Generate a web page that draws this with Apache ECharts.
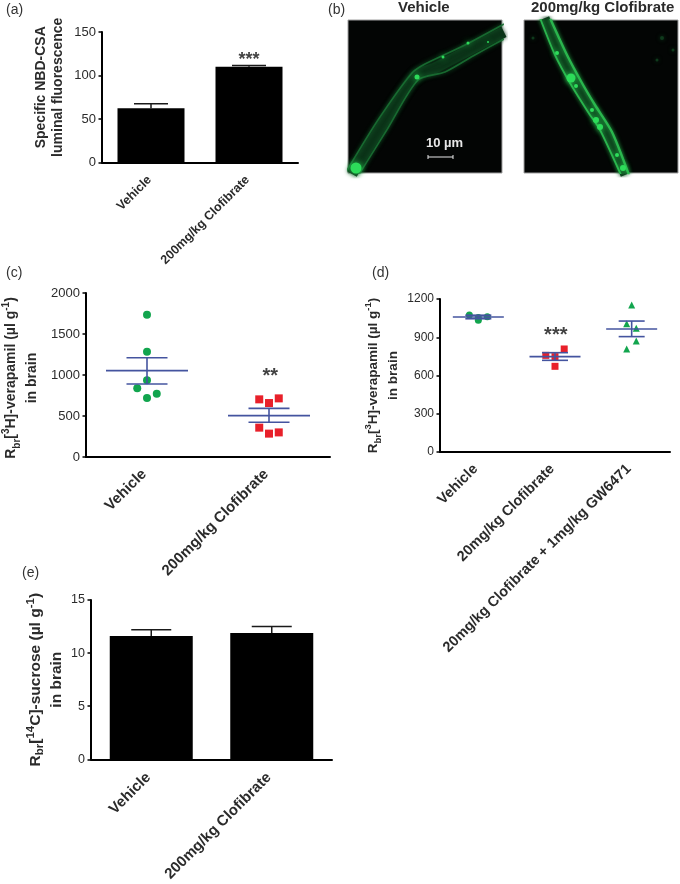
<!DOCTYPE html>
<html><head><meta charset="utf-8">
<style>html,body{margin:0;padding:0;background:#fff}#c{width:680px;height:884px}</style>
<script src="https://cdn.jsdelivr.net/npm/echarts@6/dist/echarts.min.js"></script></head>
<body><div id="c"></div>
<script>
// ---- data ----
const catsTwo = ['Vehicle', '200mg/kg Clofibrate'];
const catsD = ['Vehicle', '20mg/kg Clofibrate', '20mg/kg Clofibrate + 1mg/kg GW6471'];

const aMeans = [62.5, 110];
const aTops = [67.5, 111.5];

const cVehicle = [[0, 1736], [0, 1285], [0, 935], [-0.08, 837], [0.08, 772], [0, 720]];
const cClofibrate = [[0.92, 703], [1.08, 715], [1, 658], [0.92, 358], [1.08, 300], [1, 285]];
const cMeans = [1053, 504];
const cLow = [890, 423];
const cHigh = [1211, 593];

const dVehicle = [[-0.117, 1075], [0, 1033], [0, 1055], [0.117, 1061]];
const dClofibrate = [[0.88, 758], [1, 748], [1, 672], [1.12, 808]];
const dGw = [[2, 1153], [1.935, 1006], [2.06, 970], [2.06, 871], [1.935, 808]];
const dMeans = [1059, 748, 965];
const dLow = [1045, 719, 905];
const dHigh = [1073, 779, 1027];

const eMeans = [11.6, 11.9];
const eTops = [12.2, 12.5];

// micrograph traces (image-pixel frame, y down)
const img1WallA = [[-2,152],[30,100],[64,53],[77,44],[117,25],[156,4]];
const img1WallB = [[10,156],[40,108],[70,60],[97,52],[125,36],[156,19]];
const img1Glow = [[4,154],[35,104],[67,56],[87,48],[121,30],[156,12]];
const img1Spots = [[8,148,11],[69,57,5],[95,37,3],[120,23,3],[140,22,2]];
const img2WallA = [[16,-2],[31,35],[46,63],[64,92],[76,110],[97,155]];
const img2WallB = [[26,-2],[43,35],[58,63],[71,85],[88,112],[105,155]];
const img2Glow = [[21,-2],[37,35],[52,63],[67,88],[82,111],[101,155]];
const img2Spots = [[47,58,9],[33,33,4],[52,66,4],[72,100,6],[76,107,6],[93,135,4],[99,148,6],[68,90,4]];
const img2Faint = [[9,18,3],[133,40,3],[138,18,4],[149,30,3]];
const scaleBar = [[80,137],[105,137]];

// ---- styles ----
const FONT = '"Liberation Sans", Arial, sans-serif';
const INK = '#2b2b2b', BLUE = '#44549f', GREEN = '#12a54e', RED = '#e8202a';

function rich(size, lh) {
  return {
    n: { fontSize: size, fontWeight: 'bold', color: INK, fontFamily: FONT, lineHeight: lh },
    s: { fontSize: size - 4, fontWeight: 'bold', color: INK, fontFamily: FONT, verticalAlign: 'bottom', lineHeight: lh },
    u: { fontSize: size - 4, fontWeight: 'bold', color: INK, fontFamily: FONT, verticalAlign: 'top', lineHeight: lh }
  };
}
const grids = [], xAxes = [], yAxes = [], series = [];

function panel(g) {
  const i = grids.length;
  grids.push({ left: g.l, top: g.t, width: g.w, height: g.h, containLabel: false });
  xAxes.push({
    type: 'category', gridIndex: i, data: g.cats,
    axisLine: { lineStyle: { color: '#000', width: 2 } },
    axisTick: { alignWithLabel: true, length: 4, lineStyle: { color: '#000', width: 2 } },
    axisLabel: { rotate: 45, interval: 0, margin: g.mar, padding: [0, g.pad, 0, 0], fontSize: g.lab, fontWeight: 'bold', color: INK, fontFamily: FONT }
  });
  xAxes.push({ type: 'value', gridIndex: i, show: false, min: -0.5, max: g.cats.length - 0.5 });
  yAxes.push({
    type: 'value', gridIndex: i, min: 0, max: g.max, interval: g.step,
    splitLine: { show: false },
    axisLine: { show: true, onZero: false, lineStyle: { color: '#000', width: 2 } },
    axisTick: { show: true, length: 3.5, lineStyle: { color: '#000', width: 1.5 } },
    axisLabel: { margin: 6, fontSize: g.tick, color: INK, fontFamily: FONT, formatter: v => String(v) },
    name: g.name, nameLocation: 'middle', nameRotate: 90, nameGap: g.gap,
    nameTextStyle: { fontSize: g.ns, fontWeight: 'bold', color: INK, fontFamily: FONT, lineHeight: g.lh, padding: g.np || 0, rich: rich(g.ns, g.lh) }
  });
  return { cat: xAxes.length - 2, val: xAxes.length - 1, y: yAxes.length - 1 };
}

function bars(ax, means, tops, width, cap) {
  series.push({ type: 'bar', xAxisIndex: ax.cat, yAxisIndex: ax.y, data: means, barWidth: width,
    itemStyle: { color: '#000' }, animation: false, z: 2 });
  series.push({ type: 'custom', xAxisIndex: ax.cat, yAxisIndex: ax.y, data: tops.map((t, i) => [i, means[i], t]),
    silent: true, animation: false, z: 1,
    renderItem(p, api) {
      const a = api.coord([api.value(0), api.value(1)]), b = api.coord([api.value(0), api.value(2)]);
      const st = { stroke: '#1a1a1a', lineWidth: 1.5 };
      return { type: 'group', children: [
        { type: 'line', shape: { x1: a[0], y1: a[1], x2: b[0], y2: b[1] }, style: st },
        { type: 'line', shape: { x1: b[0] - cap, y1: b[1], x2: b[0] + cap, y2: b[1] }, style: st }
      ] };
    } });
}

function meanErr(ax, means, low, high, meanHalf, capHalf) {
  series.push({ type: 'custom', xAxisIndex: ax.val, yAxisIndex: ax.y,
    data: means.map((m, i) => [i, m, low[i], high[i]]), silent: true, animation: false, z: 5,
    renderItem(p, api) {
      const x = api.value(0);
      const m = api.coord([x, api.value(1)]), l = api.coord([x, api.value(2)]), h = api.coord([x, api.value(3)]);
      const st = { stroke: BLUE, lineWidth: 1.6 };
      const ln = (x1, y1, x2, y2) => ({ type: 'line', shape: { x1, y1, x2, y2 }, style: st });
      return { type: 'group', children: [
        ln(m[0] - meanHalf, m[1], m[0] + meanHalf, m[1]),
        ln(l[0], l[1], h[0], h[1]),
        ln(l[0] - capHalf, l[1], l[0] + capHalf, l[1]),
        ln(h[0] - capHalf, h[1], h[0] + capHalf, h[1])
      ] };
    } });
}

function pts(ax, data, symbol, color, size) {
  series.push({ type: 'scatter', xAxisIndex: ax.val, yAxisIndex: ax.y, data, symbol, symbolSize: size,
    itemStyle: { color, opacity: 1 }, animation: false, silent: true, z: 3 });
}

function sig(ax, x, y, text, size) {
  series.push({ type: 'scatter', xAxisIndex: ax.val, yAxisIndex: ax.y, data: [[x, y]], symbolSize: 1,
    itemStyle: { color: 'transparent' }, silent: true, animation: false, z: 6,
    label: { show: true, position: 'inside', formatter: text, fontSize: size, fontWeight: 'bold', color: '#111', fontFamily: FONT } });
}

// (a)
const A = panel({ l: 102, t: 32, w: 196, h: 130.5, cats: catsTwo, max: 150, step: 50, tick: 13, lab: 12.5, mar: 14, pad: 2, ns: 14, lh: 17, gap: 35, np: [0, 0, 0, 20],
  name: '{n|Specific NBD-CSA}\n{n|luminal fluorescence}' });
bars(A, aMeans, aTops, 67, 17);
sig(A, 1, 118, '***', 18);

// (c)
const C = panel({ l: 85, t: 293, w: 245, h: 164, cats: catsTwo, max: 2000, step: 500, tick: 13, lab: 15, mar: 12, pad: 4, ns: 14, lh: 21, gap: 43, np: [0, 6, 0, 0],
  name: '{n|R}{s|br}{n|[}{u|3}{n|H]-verapamil (µl g}{u|-1}{n|)}\n{n|in brain}' });
meanErr(C, cMeans, cLow, cHigh, 41, 20.5);
pts(C, cVehicle, 'circle', GREEN, 8);
pts(C, cClofibrate, 'rect', RED, 8);
sig(C, 1.01, 985, '**', 20);

// (d)
const D = panel({ l: 440, t: 299, w: 230, h: 153, cats: catsD, max: 1200, step: 300, tick: 12, lab: 14.5, mar: 12, pad: 4, ns: 13.5, lh: 20, gap: 29,
  name: '{n|R}{s|br}{n|[}{u|3}{n|H]-verapamil (µl g}{u|-1}{n|)}\n{n|in brain}' });
meanErr(D, dMeans, dLow, dHigh, 25.5, 13);
pts(D, dVehicle, 'circle', GREEN, 7);
pts(D, dClofibrate, 'rect', RED, 7);
pts(D, dGw, 'triangle', GREEN, 7);
sig(D, 1.01, 914, '***', 20);

// (e)
const E = panel({ l: 91, t: 600, w: 241, h: 160.5, cats: catsTwo, max: 15, step: 5, tick: 12.5, lab: 15, mar: 13, pad: 4, ns: 15.5, lh: 21, gap: 23,
  name: '{n|R}{s|br}{n|[}{u|14}{n|C]-sucrose (µl g}{u|-1}{n|)}\n{n|in brain}' });
bars(E, eMeans, eTops, 83, 20);

// (b) micrographs: black frames with hidden pixel axes
function image(left, glow, wallA, wallB, spots, bright, faint) {
  const i = grids.length;
  grids.push({ left, top: 20, width: 154, height: 153, show: true, backgroundColor: '#030504', borderColor: '#a0a0a0', borderWidth: 1 });
  xAxes.push({ type: 'value', gridIndex: i, show: false, min: 0, max: 154 });
  yAxes.push({ type: 'value', gridIndex: i, show: false, min: 0, max: 153, inverse: true });
  const xi = xAxes.length - 1, yi = yAxes.length - 1;
  const line = (data, color, width, blur, op) => series.push({ type: 'line', xAxisIndex: xi, yAxisIndex: yi, data, showSymbol: false, smooth: 0.25, silent: true, animation: false,
    lineStyle: { color, width, opacity: op, shadowBlur: blur, shadowColor: color }, clip: true, z: 2 });
  line(glow, bright ? '#0d3f1c' : '#0b3318', bright ? 9 : 11, 4, 1);
  line(wallA, bright ? '#2ec052' : '#1a7033', bright ? 1.8 : 1.6, 4, 0.9);
  line(wallB, bright ? '#2ec052' : '#1a7033', bright ? 2.4 : 1.6, 4, 0.9);
  series.push({ type: 'scatter', xAxisIndex: xi, yAxisIndex: yi, data: spots, symbolSize: v => v[2], silent: true, animation: false, clip: true, z: 3,
    itemStyle: { color: '#2ddc5a', opacity: 1, shadowBlur: 6, shadowColor: '#2ddc5a' } });
  if (faint) series.push({ type: 'scatter', xAxisIndex: xi, yAxisIndex: yi, data: faint, symbolSize: v => v[2], silent: true, animation: false, clip: true, z: 3,
    itemStyle: { color: '#0f3a1c', opacity: 1, shadowBlur: 4, shadowColor: '#0f3a1c' } });
  return { x: xi, y: yi };
}
const im1 = image(348, img1Glow, img1WallA, img1WallB, img1Spots, false);
image(524, img2Glow, img2WallA, img2WallB, img2Spots, true, img2Faint);
series.push({ type: 'line', xAxisIndex: im1.x, yAxisIndex: im1.y, data: scaleBar, showSymbol: true, symbol: 'rect', symbolSize: [1, 4], silent: true, animation: false, z: 6,
  lineStyle: { color: '#e8e8e8', width: 1 }, itemStyle: { color: '#e8e8e8', opacity: 1 } });

const T = (left, top, text, o) => ({ type: 'text', left, top, z: 20, style: Object.assign({ text, fontFamily: FONT, fontSize: 14, fill: '#333' }, o || {}) });

const chart = echarts.init(document.getElementById('c'), null, { renderer: 'canvas' });
chart.setOption({
  backgroundColor: '#fff', animation: false,
  grid: grids, xAxis: xAxes, yAxis: yAxes, series,
  graphic: [
    T(6, 3, '(a)'), T(328, 3, '(b)'), T(6, 266, '(c)'), T(372, 266, '(d)'), T(22, 566, '(e)'),
    T(398, 0, 'Vehicle', { fontSize: 15, fontWeight: 'bold', fill: INK }),
    T(531, 0, '200mg/kg Clofibrate', { fontSize: 15, fontWeight: 'bold', fill: INK }),
    T(426, 137, '10 µm', { fontSize: 13, fontWeight: 'bold', fill: '#e8e8e8' })
  ]
});
</script></body></html>
